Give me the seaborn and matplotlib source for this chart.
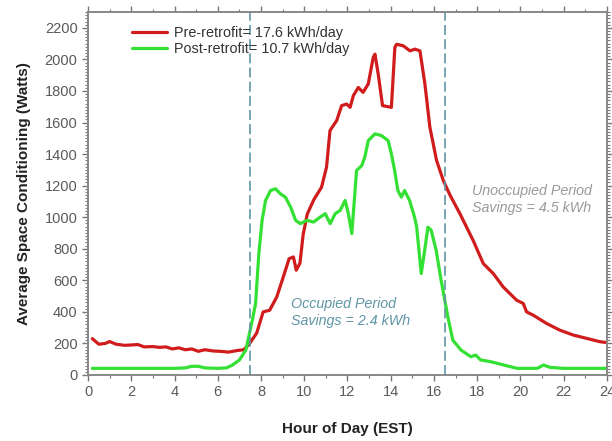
import numpy as np
import pandas as pd
import matplotlib
matplotlib.use("Agg")
import matplotlib.pyplot as plt
from matplotlib.ticker import MultipleLocator
import seaborn as sns

# Pre-retrofit profile (hour, watts)
pre_hour = [0.2, 0.5, 0.8, 1.0, 1.3, 1.7, 2.0, 2.3, 2.6, 3.0, 3.3, 3.6, 3.9, 4.2, 4.5,
            4.8, 5.1, 5.4, 5.8, 6.1, 6.5, 6.9, 7.2, 7.45, 7.8, 8.1, 8.4, 8.73, 9.03, 9.3,
            9.5, 9.63, 9.8, 9.95, 10.14, 10.44, 10.8, 11.03, 11.19, 11.5, 11.73, 11.96,
            12.12, 12.27, 12.5, 12.72, 12.96, 13.19, 13.27, 13.42, 13.62, 14.03, 14.19,
            14.27, 14.58, 14.89, 15.12, 15.35, 15.58, 15.81, 16.12, 16.43, 16.74, 17.2,
            17.81, 18.28, 18.74, 19.2, 19.82, 20.13, 20.28, 20.59, 21.2, 21.82, 22.44,
            23.06, 23.67, 24.0]
pre_watts = [230, 195, 200, 212, 195, 188, 190, 193, 178, 180, 175, 178, 165, 172, 160,
             165, 150, 160, 152, 150, 145, 155, 160, 195, 265, 400, 410, 495, 621, 737,
             748, 664, 708, 890, 1020, 1110, 1190, 1317, 1549, 1612, 1707, 1717,
             1696, 1770, 1822, 1791, 1844, 2012, 2033, 1907, 1707, 1696, 2075,
             2096, 2086, 2054, 2065, 2054, 1844, 1570, 1359, 1233, 1140, 1022,
             853, 706, 643, 558, 474, 453, 400, 379, 327, 284, 253,
             232, 211, 205]

# Post-retrofit profile
post_hour = [0.2, 1.0, 2.0, 3.0, 4.0, 4.5, 4.8, 5.1, 5.4, 6.0, 6.4, 6.68, 7.0, 7.3, 7.6,
             7.75, 7.9, 8.05, 8.21, 8.44, 8.67, 8.9, 9.13, 9.37, 9.6, 9.82, 10.12, 10.43,
             10.74, 10.97, 11.2, 11.43, 11.66, 11.89, 12.04, 12.2, 12.35, 12.42, 12.66,
             12.8, 12.96, 13.27, 13.57, 13.88, 14.03, 14.18, 14.33, 14.49, 14.64, 14.87,
             15.1, 15.2, 15.41, 15.57, 15.72, 15.87, 16.1, 16.33, 16.64, 16.87, 17.25,
             17.7, 17.93, 18.16, 18.63, 19.23, 19.85, 20.77, 21.07, 21.37, 22.0, 24.0]
post_watts = [42, 42, 42, 42, 42, 45, 55, 55, 45, 42, 45, 63, 95, 158, 348,
              453, 769, 980, 1106, 1169, 1180, 1148, 1127, 1064, 980, 959, 980, 969,
              1001, 1022, 959, 1022, 1043, 1106, 1022, 896, 1169, 1296, 1327,
              1380, 1485, 1528, 1517, 1485, 1401, 1296, 1169, 1127, 1169, 1106,
              1001, 937, 643, 790, 937, 917, 790, 600, 369, 221, 158,
              116, 126, 95, 84, 63, 42, 42, 63, 48, 42, 42]

series_names = ["Pre-retrofit= 17.6 kWh/day", "Post-retrofit= 10.7 kWh/day"]
period_bounds = [7.5, 16.5]

df = pd.concat([
    pd.DataFrame({"hour": pre_hour, "watts": pre_watts, "series": series_names[0]}),
    pd.DataFrame({"hour": post_hour, "watts": post_watts, "series": series_names[1]}),
])

sns.set_style("ticks")
plt.rcParams["font.family"] = ["Liberation Sans", "DejaVu Sans"]

fig = plt.figure(figsize=(6.12, 4.41), dpi=100)
ax = fig.add_axes([0.1438, 0.1497, 0.848, 0.823])

sns.lineplot(data=df, x="hour", y="watts", hue="series", sort=False,
             palette=["#d01c1c", "#33e033"], linewidth=2.3, ax=ax)

# occupied period boundaries
for b in period_bounds:
    ax.axvline(b, color="#5f96a6", linewidth=1.2, dashes=(6, 2.5))

ax.set_xlim(0, 24)
ax.set_ylim(0, 2300)
ax.xaxis.set_major_locator(MultipleLocator(2))
ax.xaxis.set_minor_locator(MultipleLocator(1))
ax.yaxis.set_minor_locator(MultipleLocator(20))
ax.set_yticks(np.arange(0, 2201, 200))

ax.tick_params(which="both", direction="out", top=True, right=True,
               colors="#777777", labelcolor="#5a5a5a", labelsize=10.5)
ax.tick_params(which="major", length=4, width=1)
ax.tick_params(which="minor", length=2.5, width=0.8)
for s in ax.spines.values():
    s.set_color("#888888")
    s.set_linewidth(1.4)

ax.set_xlabel("Hour of Day (EST)", fontsize=11, fontweight="bold", color="#222222", labelpad=16)
ax.set_ylabel("Average Space Conditioning (Watts)", fontsize=11, fontweight="bold",
              color="#222222", labelpad=10)

leg = ax.legend(loc="upper left", bbox_to_anchor=(0.06, 0.997), frameon=False,
                fontsize=10.4, handlelength=2.4, handletextpad=0.5, labelspacing=0.1)
for t in leg.get_texts():
    t.set_color("#333333")

ax.text(9.4, 395, "Occupied Period\nSavings = 2.4 kWh", fontsize=10.3, style="italic",
        color="#5f96a6", va="center", linespacing=1.3)
ax.text(17.75, 1112, "Unoccupied Period\nSavings = 4.5 kWh", fontsize=10.3, style="italic",
        color="#9a9a9a", va="center", linespacing=1.3)

fig.savefig("out.png", dpi=100)
